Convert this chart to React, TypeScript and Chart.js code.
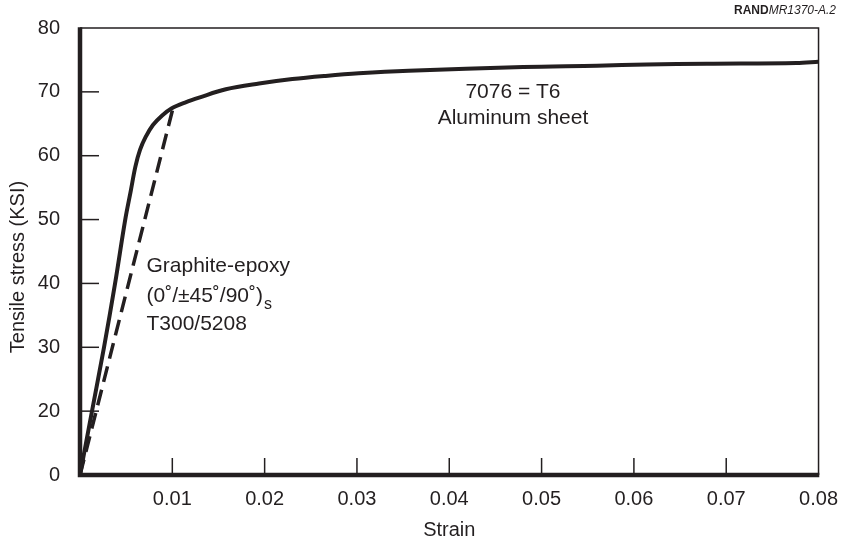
import React, { useEffect, useRef } from "react";
import { Chart, registerables } from "chart.js";

Chart.register(...registerables);

// Aluminum 7076-T6 sheet (solid curve): strain vs tensile stress (KSI)
const aluminumStrain = [
  0, 0.0013, 0.0026, 0.0038, 0.0049, 0.0055, 0.006, 0.0065, 0.0071, 0.0079,
  0.0089, 0.0099, 0.0115, 0.0129, 0.0158, 0.0194, 0.023, 0.0266, 0.0302,
  0.0356, 0.048, 0.056, 0.0614, 0.0679, 0.0776, 0.08,
];
const aluminumStress = [
  0, 20, 30, 40, 50, 54.5, 58.3, 60.9, 62.9, 64.8, 66.3, 67.4, 68.4, 69.1,
  70.4, 71.3, 72.0, 72.5, 72.9, 73.3, 73.9, 74.1, 74.3, 74.4, 74.5, 74.7,
];

// Graphite-epoxy (dashed line)
const graphiteStrain = [0, 0.0101];
const graphiteStress = [0, 67.6];

// Tick labels
const yTickLabels = [0, 20, 30, 40, 50, 60, 70, 80];
const xTickLabels = [0.01, 0.02, 0.03, 0.04, 0.05, 0.06, 0.07, 0.08];

// The printed axis squeezes 0..20 into one tick interval
const toAxis = (v: number) => (v < 20 ? 10 + v / 2 : v);
const fromAxis = (u: number) => (u < 20 ? Math.round((u - 10) * 2) : Math.round(u));

const INK = "#231f20";
const FONT = '"Liberation Sans", Arial, Helvetica, sans-serif';

const framePlugin = {
  id: "frameAndText",
  afterDraw(chart: any) {
    const { ctx, chartArea: a, scales } = chart;
    const x = scales.x;
    const y = scales.y;
    ctx.save();
    ctx.strokeStyle = INK;
    ctx.lineCap = "butt";
    // inner tick marks
    ctx.lineWidth = 1.5;
    y.ticks.forEach((t: any) => {
      const v = fromAxis(t.value);
      if (v <= 0 || v >= 80) return;
      const py = y.getPixelForValue(t.value);
      ctx.beginPath();
      ctx.moveTo(a.left, py);
      ctx.lineTo(a.left + 19, py);
      ctx.stroke();
    });
    x.ticks.forEach((t: any) => {
      if (t.value <= 0 || t.value >= 0.0799) return;
      const px = x.getPixelForValue(t.value);
      ctx.beginPath();
      ctx.moveTo(px, a.bottom);
      ctx.lineTo(px, a.bottom - 17);
      ctx.stroke();
    });
    // thin top/right frame
    ctx.lineWidth = 1.5;
    ctx.beginPath();
    ctx.moveTo(a.left, a.top);
    ctx.lineTo(a.right, a.top);
    ctx.lineTo(a.right, a.bottom);
    ctx.stroke();
    // thick left/bottom axes
    ctx.lineWidth = 4.5;
    ctx.beginPath();
    ctx.moveTo(a.left, a.top - 0.75);
    ctx.lineTo(a.left, a.bottom);
    ctx.lineTo(a.right + 0.75, a.bottom);
    ctx.stroke();

    // axis titles
    ctx.fillStyle = INK;
    ctx.font = `20px ${FONT}`;
    ctx.textAlign = "center";
    ctx.textBaseline = "middle";
    ctx.fillText("Strain", (a.left + a.right) / 2, 530);
    ctx.save();
    ctx.translate(18, 267);
    ctx.rotate(-Math.PI / 2);
    ctx.fillText("Tensile stress (KSI)", 0, 0);
    ctx.restore();

    // annotations
    ctx.font = `21px ${FONT}`;
    const ax = x.getPixelForValue(0.0469);
    ctx.fillText("7076 = T6", ax, y.getPixelForValue(toAxis(69.9)));
    ctx.fillText("Aluminum sheet", ax, y.getPixelForValue(toAxis(65.9)));

    const gx = x.getPixelForValue(0.0072);
    ctx.textAlign = "left";
    ctx.fillText("Graphite-epoxy", gx, y.getPixelForValue(toAxis(42.7)));
    const l2y = y.getPixelForValue(toAxis(38.0));
    const l2 = "(0˚/±45˚/90˚)";
    ctx.fillText(l2, gx, l2y);
    const w2 = ctx.measureText(l2).width;
    ctx.font = `16px ${FONT}`;
    ctx.fillText("s", gx + w2 + 1, l2y + 8);
    ctx.font = `21px ${FONT}`;
    ctx.fillText("T300/5208", gx, y.getPixelForValue(toAxis(33.6)));

    // source tag
    ctx.textAlign = "right";
    ctx.font = `italic 12px ${FONT}`;
    const tag = "MR1370-A.2";
    ctx.fillText(tag, 836, 11);
    const tw = ctx.measureText(tag).width;
    ctx.font = `bold 12px ${FONT}`;
    ctx.fillText("RAND", 836 - tw, 11);
    ctx.restore();
  },
};

export default function App() {
  const ref = useRef<HTMLCanvasElement | null>(null);
  useEffect(() => {
    document.body.style.margin = "0";
    const canvas = ref.current;
    if (!canvas) return;
    const chart = new Chart(canvas, {
      type: "line",
      data: {
        datasets: [
          {
            label: "7076-T6 Aluminum sheet",
            data: aluminumStrain.map((s, i) => ({ x: s, y: toAxis(aluminumStress[i]) })),
            borderColor: INK,
            borderWidth: 4,
            pointRadius: 0,
            tension: 0.35,
            fill: false,
          },
          {
            label: "Graphite-epoxy T300/5208",
            data: graphiteStrain.map((s, i) => ({ x: s, y: toAxis(graphiteStress[i]) })),
            borderColor: INK,
            borderWidth: 3.5,
            borderDash: [16, 8],
            pointRadius: 0,
            fill: false,
          },
        ],
      },
      options: {
        animation: false,
        responsive: false,
        devicePixelRatio: 1,
        layout: { padding: { top: 28, right: 20, left: 0, bottom: 0 } },
        plugins: { legend: { display: false }, tooltip: { enabled: false } },
        scales: {
          x: {
            type: "linear",
            min: 0,
            max: 0.08,
            grid: { display: false },
            border: { display: false },
            afterBuildTicks: (s: any) => {
              s.ticks = xTickLabels.map((v) => ({ value: v }));
            },
            afterFit: (s: any) => {
              s.height = 69;
            },
            ticks: {
              padding: 4,
              color: INK,
              font: { family: FONT, size: 20 },
              maxRotation: 0,
              autoSkip: false,
              callback: (v: any) => Number(v).toFixed(2),
            },
          },
          y: {
            type: "linear",
            min: 10,
            max: 80,
            grid: { display: false },
            border: { display: false },
            afterBuildTicks: (s: any) => {
              s.ticks = yTickLabels.map((v) => ({ value: toAxis(v) }));
            },
            afterFit: (s: any) => {
              s.width = 80;
            },
            ticks: {
              padding: 12,
              color: INK,
              font: { family: FONT, size: 20 },
              autoSkip: false,
              callback: (v: any) => String(fromAxis(Number(v))),
            },
          },
        },
      },
      plugins: [framePlugin],
    });
    return () => chart.destroy();
  }, []);
  return (
    <div style={{ width: 842, height: 544, background: "#fff" }}>
      <canvas ref={ref} width={842} height={544} style={{ display: "block" }} />
    </div>
  );
}
